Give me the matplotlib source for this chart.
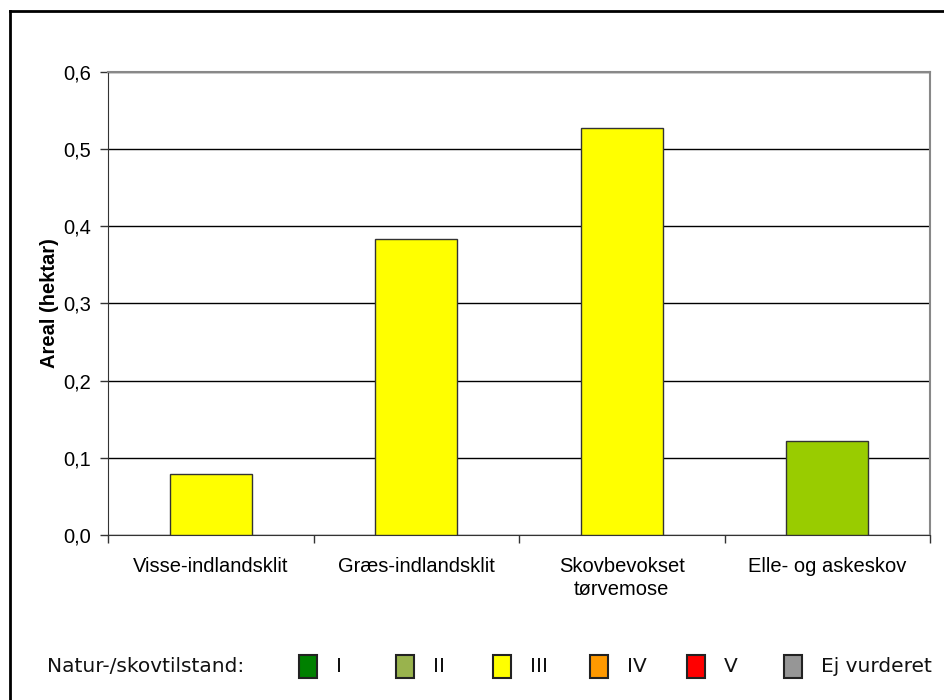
import numpy as np
import matplotlib.pyplot as plt
from matplotlib.patches import Rectangle
from matplotlib.lines import Line2D

plt.switch_backend('agg')

categories = ['Visse-indlandsklit', 'Græs-indlandsklit',
              'Skovbevokset\ntørvemose', 'Elle- og askeskov']
areal = [0.079, 0.383, 0.528, 0.122]
tilstand = ['III', 'III', 'III', 'II']
bar_colors = {'II': '#99CC00', 'III': '#FFFF00'}

legend_labels = ['I', 'II', 'III', 'IV', 'V', 'Ej vurderet']
legend_colors = ['#008000', '#99B34D', '#FFFF00', '#FF9900', '#FF0000', '#969696']

W, H = 944, 700
fig = plt.figure(figsize=(W / 100, H / 100), dpi=100)
ax = fig.add_axes([108 / W, 1 - 535 / H, (930 - 108) / W, (535 - 72) / H])

x = np.arange(len(categories))
ax.bar(x, areal, width=0.4, color=[bar_colors[t] for t in tilstand],
       edgecolor='#333333', linewidth=1, zorder=3)

ax.set_xlim(-0.5, len(categories) - 0.5)
ax.set_ylim(0, 0.6)
ax.set_yticks(np.arange(0, 0.61, 0.1))
ax.set_yticklabels([f'{v:.1f}'.replace('.', ',') for v in np.arange(0, 0.61, 0.1)],
                   fontfamily='Liberation Sans', fontsize=14.5)
ax.yaxis.grid(True, color='black', linewidth=1)
ax.set_axisbelow(True)

ax.set_xticks(np.arange(-0.5, len(categories), 1))
ax.set_xticklabels([])
ax.tick_params(axis='both', direction='out', length=6, width=1, color='#333333')
ax.tick_params(axis='y', pad=6)
for i, c in enumerate(categories):
    ax.text(i, -0.028, c, ha='center', va='top', fontsize=14.5,
            fontfamily='Liberation Sans', linespacing=1.3,
            transform=ax.transData)

ax.set_ylabel('Areal (hektar)', fontsize=14.5, fontweight='bold',
              fontfamily='Liberation Sans', labelpad=3)

for s in ['left', 'bottom']:
    ax.spines[s].set_color('#333333')
for s in ['top', 'right']:
    ax.spines[s].set_color('#888888')
    ax.spines[s].set_linewidth(1.5)

# outer frame (top and left only visible)
fig.add_artist(Line2D([10 / W, 1], [1 - 11 / H, 1 - 11 / H], color='black', lw=2,
                      transform=fig.transFigure))
fig.add_artist(Line2D([10 / W, 10 / W], [0, 1 - 11 / H], color='black', lw=2,
                      transform=fig.transFigure))

# legend row
ly = 667
fig.text(47 / W, 1 - ly / H, 'Natur-/skovtilstand:', fontsize=14.5,
         fontfamily='DejaVu Sans', va='center', ha='left', color='#111111')
for i, (lab, col) in enumerate(zip(legend_labels, legend_colors)):
    bx = 299 + i * 97
    fig.add_artist(Rectangle((bx / W, 1 - 678 / H), 18 / W, 23 / H,
                             facecolor=col, edgecolor='#222222', lw=1.5,
                             transform=fig.transFigure))
    fig.text((bx + 37) / W, 1 - ly / H, lab, fontsize=14.5,
             fontfamily='DejaVu Sans', va='center', ha='left', color='#111111')

fig.savefig('out.png', dpi=100)
